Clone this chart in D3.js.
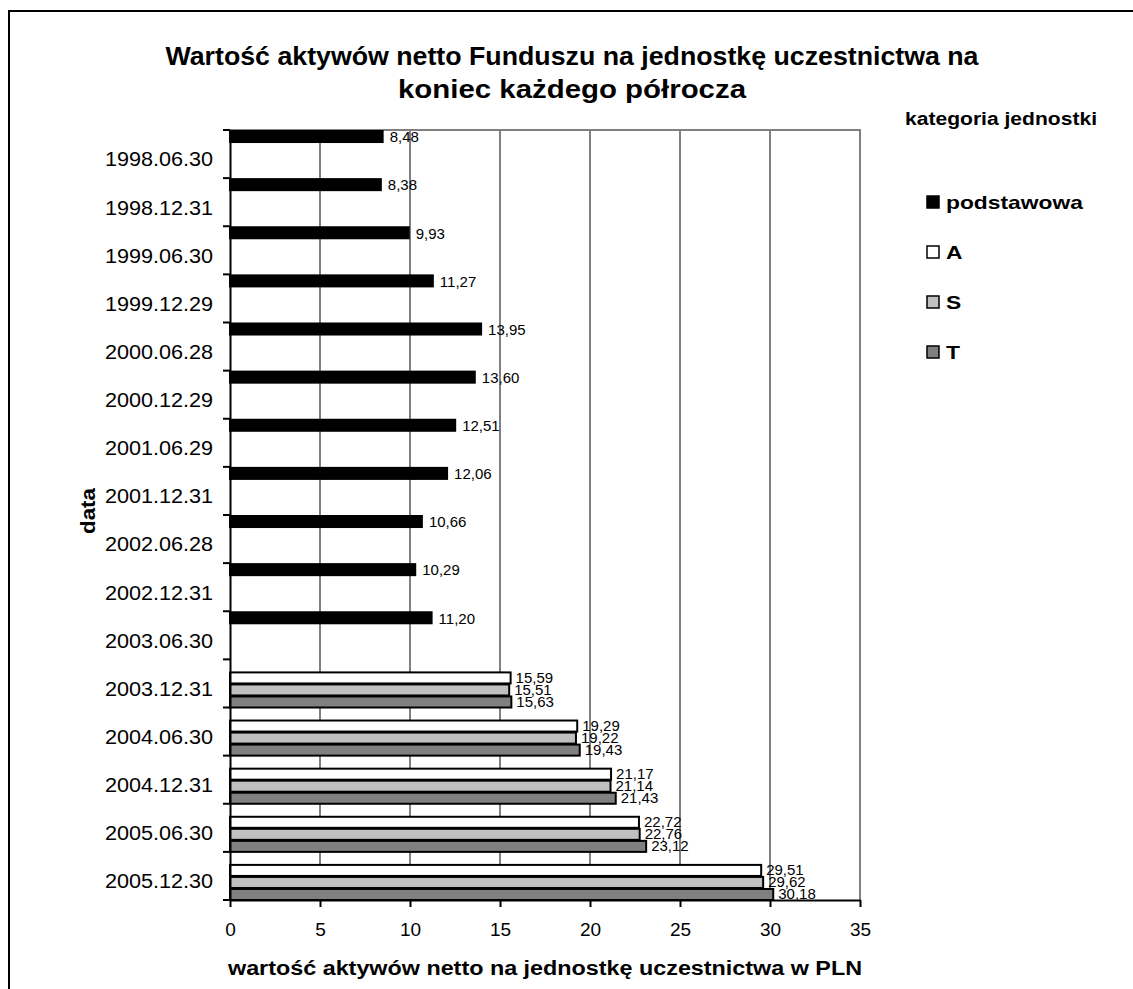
<!DOCTYPE html>
<html><head><meta charset="utf-8">
<script src="https://cdn.jsdelivr.net/npm/d3@7"></script>
<style>body{margin:0;background:#fff}svg{display:block}</style>
</head><body>
<svg id="c" width="1133" height="989"></svg>
<script>
const categories = ["1998.06.30","1998.12.31","1999.06.30","1999.12.29","2000.06.28","2000.12.29","2001.06.29","2001.12.31","2002.06.28","2002.12.31","2003.06.30","2003.12.31","2004.06.30","2004.12.31","2005.06.30","2005.12.30"];
const seriesNames = ["podstawowa","A","S","T"];
const seriesColors = ["#000000","#ffffff","#c0c0c0","#808080"];
const podstawowa = [8.48,8.38,9.93,11.27,13.95,13.60,12.51,12.06,10.66,10.29,11.20,null,null,null,null,null];
const serA = [null,null,null,null,null,null,null,null,null,null,null,15.59,19.29,21.17,22.72,29.51];
const serS = [null,null,null,null,null,null,null,null,null,null,null,15.51,19.22,21.14,22.76,29.62];
const serT = [null,null,null,null,null,null,null,null,null,null,null,15.63,19.43,21.43,23.12,30.18];
const xTicks = [0,5,10,15,20,25,30,35];
const title = ["Wartość aktywów netto Funduszu na jednostkę uczestnictwa na","koniec każdego półrocza"];
const xTitle = "wartość aktywów netto na jednostkę uczestnictwa w PLN";
const yTitle = "data";
const legendTitle = "kategoria jednostki";

const svg = d3.select("#c");
const font = "Liberation Sans, Arial, sans-serif";
function stretchRatio(sel, r){
  sel.each(function(){
    const w = this.getComputedTextLength();
    d3.select(this).attr("textLength", w*r).attr("lengthAdjust","spacingAndGlyphs");
  });
}
function stretchTo(sel, w){
  sel.attr("textLength", w).attr("lengthAdjust","spacingAndGlyphs");
}
// outer frame
svg.append("path").attr("d","M9,995 L9,11 L1140,11").attr("fill","none").attr("stroke","#000").attr("stroke-width",2);

const L=230,R=860,T=130,B=900;
const x = d3.scaleLinear().domain([0,35]).range([L,R]);
const y = d3.scaleBand().domain(categories).range([T,B]).padding(0);
const ys = d3.scaleBand().domain(seriesNames).range([0,y.bandwidth()]).padding(0);

// gridlines
svg.append("g").selectAll("line").data(xTicks.filter(d=>d>0)).join("line")
  .attr("x1",d=>x(d)).attr("x2",d=>x(d)).attr("y1",T).attr("y2",B)
  .attr("stroke","#808080").attr("stroke-width",2);
svg.append("line").attr("x1",L).attr("x2",R+1).attr("y1",T).attr("y2",T).attr("stroke","#808080").attr("stroke-width",2);

const allSeries = [podstawowa,serA,serS,serT];
const g = svg.append("g");
allSeries.forEach((vals,si)=>{
  const data = categories.map((c,i)=>({c,v:vals[i]})).filter(d=>d.v!=null);
  g.selectAll(null).data(data).join("rect")
    .attr("x",L).attr("y",d=>y(d.c)+ys(seriesNames[si])+1)
    .attr("width",d=>x(d.v)-L).attr("height",ys.bandwidth()-1)
    .attr("fill",seriesColors[si]).attr("stroke","#000").attr("stroke-width",2);
  g.selectAll(null).data(data).join("text")
    .attr("x",d=>x(d.v)+(si===0?7:5)).attr("y",d=>y(d.c)+ys(seriesNames[si])+ys.bandwidth()/2+(si===0?1:0))
    .attr("dy","0.35em").attr("font-family",font).attr("font-size",15)
    .text(d=>d.v.toFixed(2).replace(".",","));
});

// axes
const xAxis = svg.append("g").attr("transform",`translate(0,${B})`)
  .call(d3.axisBottom(x).tickValues(xTicks).tickSize(7).tickSizeOuter(0).tickPadding(16));
xAxis.select(".domain").attr("stroke","#000").attr("stroke-width",2);
xAxis.selectAll(".tick line").attr("stroke","#000").attr("stroke-width",2);
xAxis.selectAll("text").attr("font-family",font).attr("font-size",19).attr("fill","#000");

const yAxis = svg.append("g").attr("transform",`translate(${L},0)`)
  .call(d3.axisLeft(y).tickSize(0).tickPadding(17));
yAxis.select(".domain").attr("stroke","#000").attr("stroke-width",2);
yAxis.selectAll("text").attr("font-family",font).attr("font-size",20).attr("fill","#000").attr("dy","0.62em");
stretchRatio(yAxis.selectAll("text"), 1.08);
// ticks at band boundaries
svg.append("g").selectAll("line").data(categories.concat(["__end"])).join("line")
  .attr("x1",L-7).attr("x2",L).attr("y1",(d,i)=>i<categories.length?y(d):B).attr("y2",(d,i)=>i<categories.length?y(d):B)
  .attr("stroke","#000").attr("stroke-width",2);

// titles
const t1 = svg.append("text").attr("x",572).attr("y",65).attr("text-anchor","middle").attr("font-family",font)
  .attr("font-weight","bold").attr("font-size",25).text(title[0]);
stretchTo(t1, 813);
const t2 = svg.append("text").attr("x",572).attr("y",98).attr("text-anchor","middle").attr("font-family",font)
  .attr("font-weight","bold").attr("font-size",25).text(title[1]);
stretchTo(t2, 348);
const xt = svg.append("text").attr("x",545).attr("y",975).attr("text-anchor","middle").attr("font-family",font)
  .attr("font-weight","bold").attr("font-size",20).text(xTitle);
stretchTo(xt, 634);
const yt = svg.append("text").attr("transform","translate(95,511) rotate(-90)").attr("text-anchor","middle").attr("font-family",font)
  .attr("font-weight","bold").attr("font-size",21).text(yTitle);
stretchTo(yt, 46);

// legend
const lt = svg.append("text").attr("x",1001).attr("y",125).attr("text-anchor","middle").attr("font-family",font)
  .attr("font-weight","bold").attr("font-size",18).text(legendTitle);
stretchTo(lt, 192);
const lg = svg.append("g").selectAll("g").data(seriesNames).join("g")
  .attr("transform",(d,i)=>`translate(927,${202+i*50})`);
lg.append("rect").attr("x",0).attr("y",-6).attr("width",12).attr("height",12)
  .attr("fill",(d,i)=>seriesColors[i]).attr("stroke","#000").attr("stroke-width",1.5);
const ltx = lg.append("text").attr("x",19).attr("y",0).attr("dy","0.36em").attr("font-family",font)
  .attr("font-weight","bold").attr("font-size",19).text(d=>d);
stretchRatio(ltx, 1.2);
</script>
</body></html>
